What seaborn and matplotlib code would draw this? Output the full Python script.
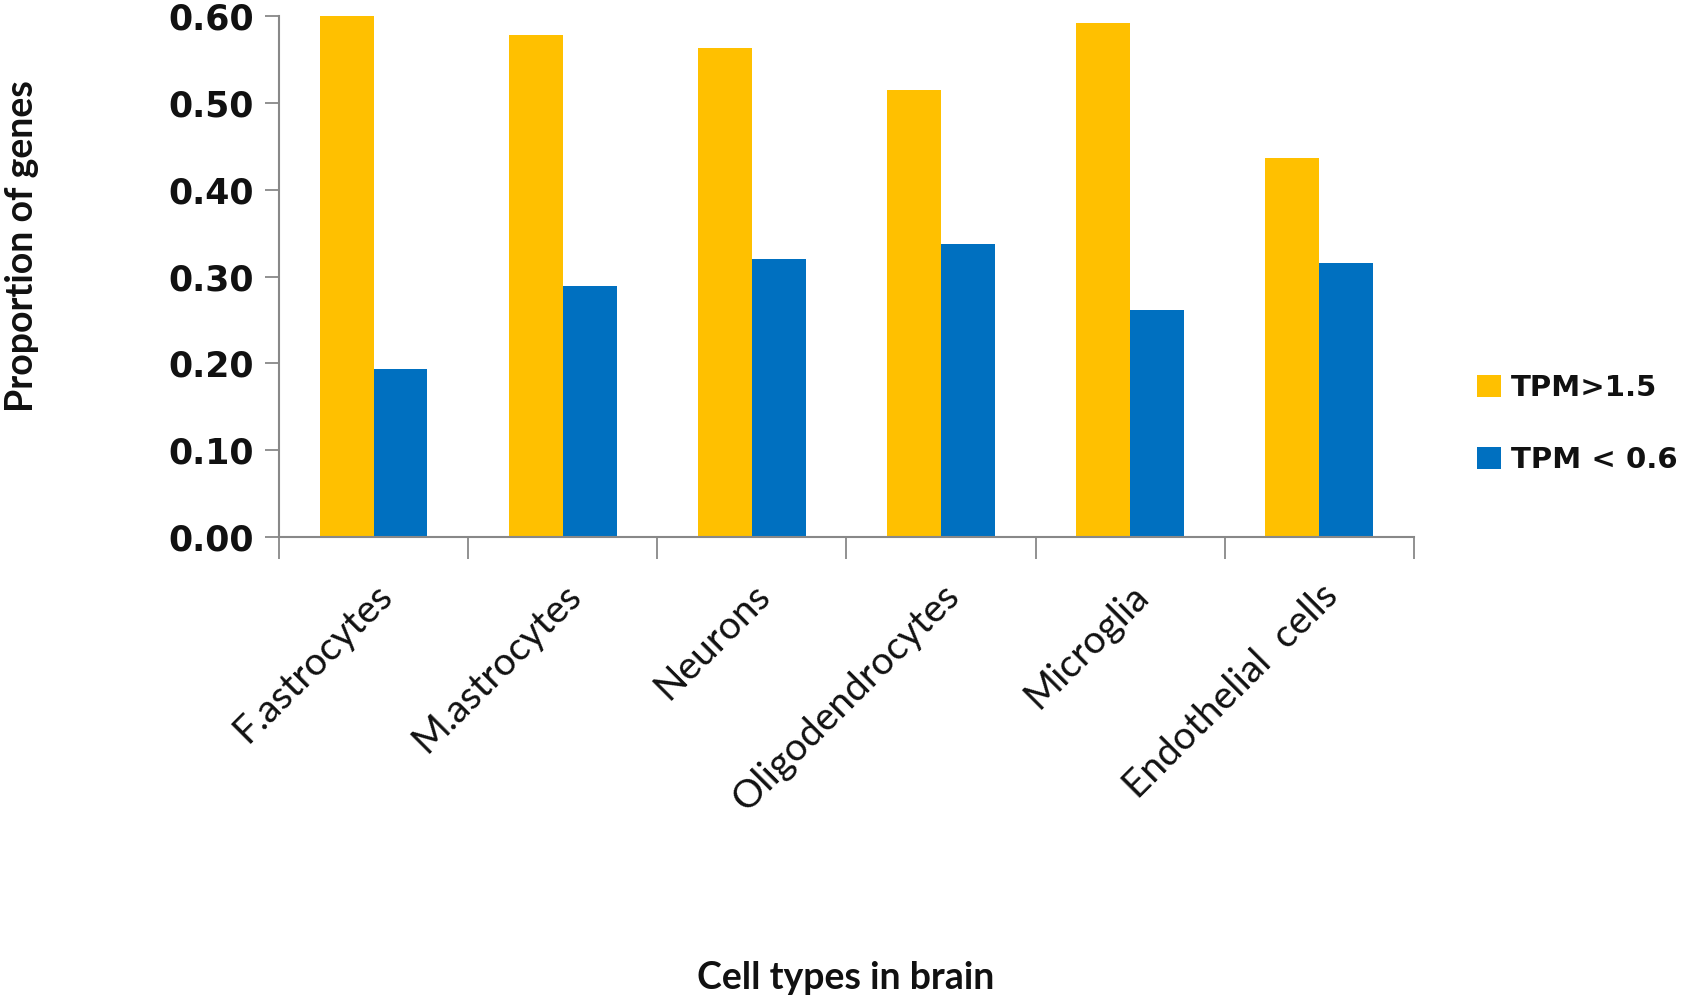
import pandas as pd
import matplotlib.pyplot as plt
import seaborn as sns
from matplotlib.ticker import FixedLocator

# values
cell_types = ['F.astrocytes', 'M.astrocytes', 'Neurons', 'Oligodendrocytes',
              'Microglia', 'Endothelial  cells']
tpm_high = [0.601, 0.578, 0.563, 0.515, 0.592, 0.437]
tpm_low = [0.193, 0.289, 0.320, 0.337, 0.261, 0.315]
series_names = ['TPM>1.5', 'TPM < 0.6']
y_ticks = [0.0, 0.1, 0.2, 0.3, 0.4, 0.5, 0.6]

df = pd.DataFrame({
    'cell': cell_types * 2,
    'value': tpm_high + tpm_low,
    'series': [series_names[0]] * len(cell_types) + [series_names[1]] * len(cell_types),
})

sns.set_style('white')
plt.rcParams['font.family'] = ['Lato', 'DejaVu Sans']

fig = plt.figure(figsize=(16.95, 10.07), dpi=100)
ax = fig.add_axes([0.1646, 0.4667, 0.6696, 0.5174])

sns.barplot(data=df, x='cell', y='value', hue='series',
            palette=['#FFC000', '#0070C0'], width=0.57, gap=0,
            saturation=1, linewidth=0, ax=ax)

ax.set_xlim(-0.5, len(cell_types) - 0.5)
ax.set_ylim(0, 0.6)
ax.set_yticks(y_ticks)
ax.set_yticklabels([f'{v:.2f}' for v in y_ticks], fontsize=25, fontweight='bold',
                   family='DejaVu Sans')

# category labels at centres, tick marks at category boundaries
ax.set_xticks(range(len(cell_types)))
ax.set_xticklabels(cell_types, rotation=45, ha='right', rotation_mode='anchor',
                   fontsize=28, color='#111111')
ax.tick_params(axis='x', which='major', length=0, pad=29)
ax.xaxis.set_minor_locator(FixedLocator([i - 0.5 for i in range(len(cell_types) + 1)]))
ax.tick_params(axis='x', which='minor', length=16, width=1.3, color='#888888',
               direction='out', bottom=True)
ax.tick_params(axis='y', length=10, width=1.3, color='#888888', direction='out',
               left=True, pad=8, labelcolor='#111111')

for side in ['top', 'right']:
    ax.spines[side].set_visible(False)
for side in ['left', 'bottom']:
    ax.spines[side].set_color('#888888')
    ax.spines[side].set_linewidth(1.5)

ax.set_xlabel('')
ax.set_ylabel('')
fig.text(0.013, 0.756, 'Proportion of genes', rotation=90, ha='center', va='center',
         fontsize=27, fontweight='bold', color='#111111')
fig.text(0.499, 0.029, 'Cell types in brain', ha='center', va='center',
         fontsize=27, fontweight='bold', color='#111111')

handles, labels = ax.get_legend_handles_labels()
leg = ax.legend(handles, labels, loc='center left', bbox_to_anchor=(0.856, 0.579),
                bbox_transform=fig.transFigure, frameon=False,
                handlelength=0.8, handleheight=0.8, handletextpad=0.35,
                labelspacing=1.5,
                prop={'family': 'DejaVu Sans', 'weight': 'bold', 'size': 21})
for t in leg.get_texts():
    t.set_color('#111111')

fig.savefig('out.png', dpi=100)
